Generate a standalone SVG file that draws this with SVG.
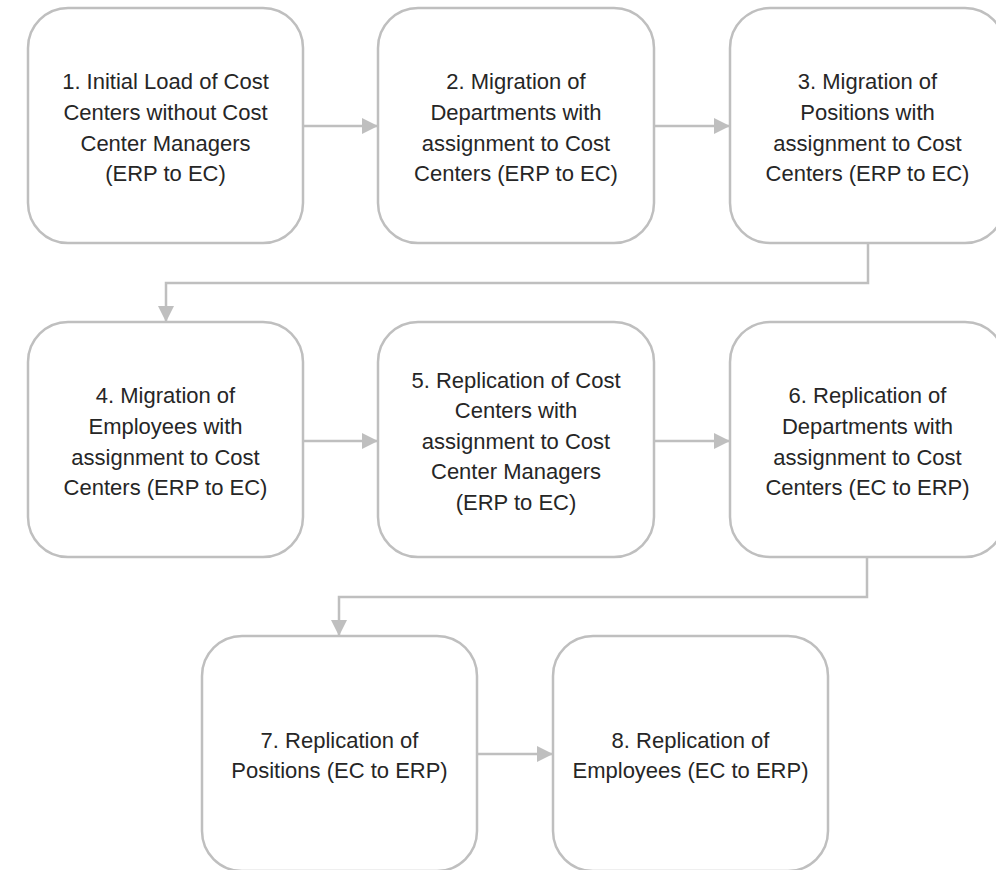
<svg xmlns="http://www.w3.org/2000/svg" width="996" height="870" viewBox="0 0 996 870">
<defs>
<marker id="ah" viewBox="0 0 10 10" refX="10" refY="5" markerWidth="16" markerHeight="16" markerUnits="userSpaceOnUse" orient="auto">
<path d="M0,0 L10,5 L0,10 Z" fill="#bfbfbf"/>
</marker>
</defs>
<style>
.box{fill:#ffffff;stroke:#bfbfbf;stroke-width:2.5}
.lbl{font-family:"Liberation Sans",Arial,sans-serif;font-size:22px;fill:#262626;text-anchor:middle}
.con{fill:none;stroke:#bfbfbf;stroke-width:2.5;marker-end:url(#ah)}
</style>
<rect width="996" height="870" fill="#ffffff"/>
<g id="connectors">
<path class="con" d="M303,126 H378"/>
<path class="con" d="M654,126 H730"/>
<path class="con" d="M868,243 V283 H166 V322"/>
<path class="con" d="M303,441 H378"/>
<path class="con" d="M654,441 H730"/>
<path class="con" d="M867,557 V597 H339 V636"/>
<path class="con" d="M477,754 H553"/>
</g>
<g id="node1">
<rect class="box" x="28" y="8" width="275" height="235" rx="40"/>
<text class="lbl" x="165.5"><tspan x="165.5" y="89">1. Initial Load of Cost</tspan><tspan x="165.5" y="120">Centers without Cost</tspan><tspan x="165.5" y="150.5">Center Managers</tspan><tspan x="165.5" y="181">(ERP to EC)</tspan></text>
</g>
<g id="node2">
<rect class="box" x="378" y="8" width="276" height="235" rx="40"/>
<text class="lbl"><tspan x="516" y="89">2. Migration of</tspan><tspan x="516" y="120">Departments with</tspan><tspan x="516" y="150.5">assignment to Cost</tspan><tspan x="516" y="181">Centers (ERP to EC)</tspan></text>
</g>
<g id="node3">
<rect class="box" x="730" y="8" width="275" height="235" rx="40"/>
<text class="lbl"><tspan x="867.5" y="89">3. Migration of</tspan><tspan x="867.5" y="120">Positions with</tspan><tspan x="867.5" y="150.5">assignment to Cost</tspan><tspan x="867.5" y="181">Centers (ERP to EC)</tspan></text>
</g>
<g id="node4">
<rect class="box" x="28" y="322" width="275" height="235" rx="40"/>
<text class="lbl"><tspan x="165.5" y="403">4. Migration of</tspan><tspan x="165.5" y="434">Employees with</tspan><tspan x="165.5" y="464.5">assignment to Cost</tspan><tspan x="165.5" y="495">Centers (ERP to EC)</tspan></text>
</g>
<g id="node5">
<rect class="box" x="378" y="322" width="276" height="235" rx="40"/>
<text class="lbl"><tspan x="516" y="387.5">5. Replication of Cost</tspan><tspan x="516" y="418">Centers with</tspan><tspan x="516" y="448.5">assignment to Cost</tspan><tspan x="516" y="479">Center Managers</tspan><tspan x="516" y="509.5">(ERP to EC)</tspan></text>
</g>
<g id="node6">
<rect class="box" x="730" y="322" width="275" height="235" rx="40"/>
<text class="lbl"><tspan x="867.5" y="403">6. Replication of</tspan><tspan x="867.5" y="434">Departments with</tspan><tspan x="867.5" y="464.5">assignment to Cost</tspan><tspan x="867.5" y="495">Centers (EC to ERP)</tspan></text>
</g>
<g id="node7">
<rect class="box" x="202" y="636" width="275" height="235" rx="40"/>
<text class="lbl"><tspan x="339.5" y="748">7. Replication of</tspan><tspan x="339.5" y="778">Positions (EC to ERP)</tspan></text>
</g>
<g id="node8">
<rect class="box" x="553" y="636" width="275" height="235" rx="40"/>
<text class="lbl"><tspan x="690.5" y="748">8. Replication of</tspan><tspan x="690.5" y="778">Employees (EC to ERP)</tspan></text>
</g>
</svg>
